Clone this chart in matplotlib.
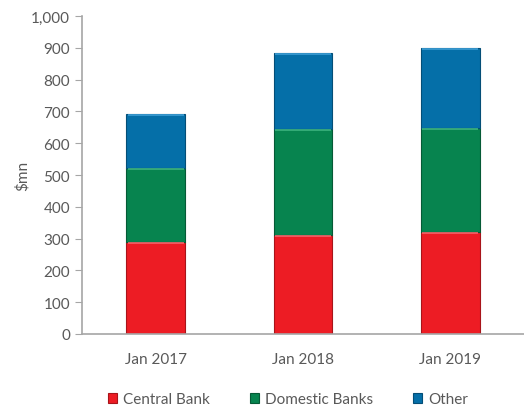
import numpy as np
import matplotlib.pyplot as plt

plt.rcParams['font.family'] = ['Lato', 'DejaVu Sans']

periods = ["Jan 2017", "Jan 2018", "Jan 2019"]
central_bank = [290, 310, 320]
domestic_banks = [232, 335, 328]
other = [169, 239, 252]

series = [
    ("Central Bank", central_bank, "#ED1C24", "#A8141A", "#F7636A"),
    ("Domestic Banks", domestic_banks, "#07844F", "#055A36", "#3DB57F"),
    ("Other", other, "#056FA8", "#044E77", "#3E9FD6"),
]

grey = "#595959"
axis_grey = "#A6A6A6"

fig = plt.figure(figsize=(5.24, 4.06), dpi=100)
ax = fig.add_axes([0.1565, 0.175, 0.8435, 0.783])

x = np.arange(len(periods))
bottom = np.zeros(len(periods))
for name, vals, color, edge, light in series:
    bars = ax.bar(x, vals, width=0.40, bottom=bottom, color=color,
                  edgecolor=edge, linewidth=0.8, label=name)
    # light bevel along the top of each segment
    for b in bars:
        top = b.get_y() + b.get_height()
        ax.plot([b.get_x() + 0.01, b.get_x() + b.get_width() - 0.01],
                [top - 3, top - 3], color=light, linewidth=1.2,
                solid_capstyle="butt")
    bottom += np.array(vals)

ax.set_xlim(-0.5, 2.5)
ax.set_ylim(0, 1000)
ax.set_yticks(np.arange(0, 1001, 100))
ax.set_yticklabels([f"{v:,}" for v in range(0, 1001, 100)])
ax.set_xticks(x)
ax.set_xticklabels(periods)
ax.set_ylabel("$mn", color=grey, fontsize=11, labelpad=1)

for side in ["top", "right"]:
    ax.spines[side].set_visible(False)
for side in ["left", "bottom"]:
    ax.spines[side].set_color(axis_grey)
    ax.spines[side].set_linewidth(1.2)

ax.tick_params(axis="y", colors=axis_grey, labelcolor=grey, labelsize=11,
               length=5, direction="out")
ax.tick_params(axis="x", length=0, labelcolor=grey, labelsize=11, pad=13)

leg = fig.legend(loc="lower center", bbox_to_anchor=(0.55, -0.018), ncol=3,
                 frameon=False, fontsize=11, handlelength=0.6,
                 handleheight=0.6, handletextpad=0.4, columnspacing=2.6,
                 borderaxespad=0.0)
for t in leg.get_texts():
    t.set_color(grey)

fig.savefig("out.png", dpi=100)
